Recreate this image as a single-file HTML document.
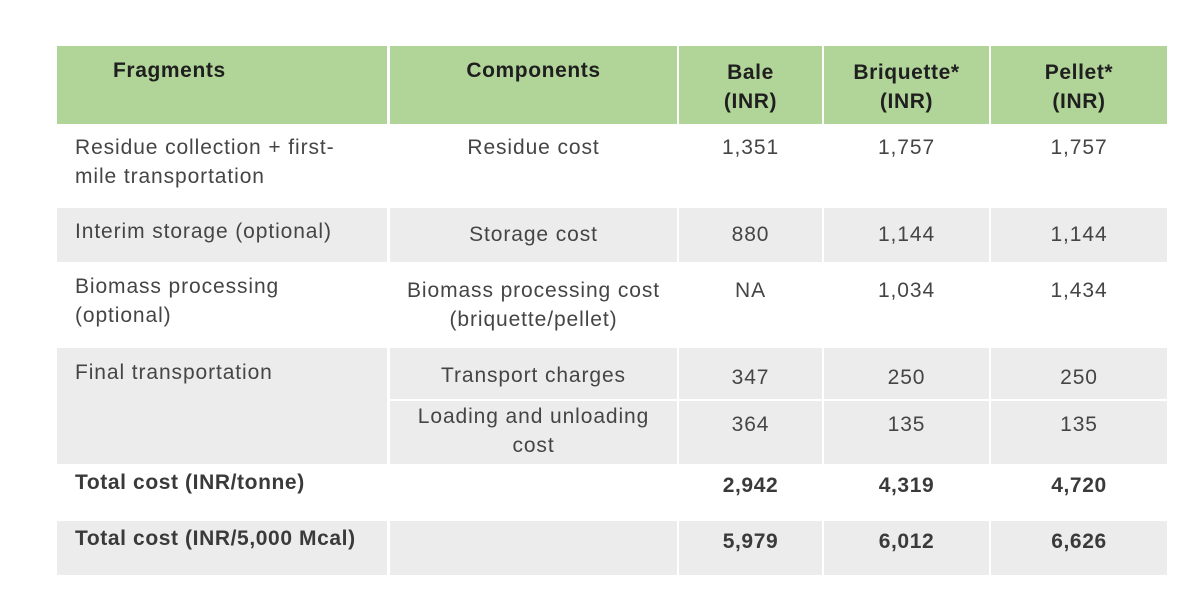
<!DOCTYPE html>
<html><head><meta charset="utf-8"><style>
body{margin:0;width:1200px;height:616px;background:#fff;position:relative;font-family:"Liberation Sans",sans-serif;overflow:hidden}
.c{position:absolute;box-sizing:border-box;padding-top:8px;font-size:21px;letter-spacing:0.9px;line-height:29px;color:#454545;text-align:center;white-space:nowrap}
.h{background:#b1d498;color:#1f1f1f;font-weight:bold;padding-top:10px;letter-spacing:0.6px}
.g{background:#ececec}
.l{text-align:left;padding-left:18px}
.b{font-weight:bold;color:#3a3a3a;letter-spacing:0.6px}
</style></head><body>
<div class="c h" style="left:57px;top:46px;width:330px;height:78px;text-align:left;padding-left:56px">Fragments</div>
<div class="c h" style="left:390px;top:46px;width:287px;height:78px">Components</div>
<div class="c h" style="left:679px;top:46px;width:143px;height:78px;padding-top:12px">Bale<br>(INR)</div>
<div class="c h" style="left:824px;top:46px;width:165px;height:78px;padding-top:12px">Briquette*<br>(INR)</div>
<div class="c h" style="left:991px;top:46px;width:176px;height:78px;padding-top:12px">Pellet*<br>(INR)</div>

<div class="c l" style="left:57px;top:125px;width:330px;height:81px">Residue collection + first-<br>mile transportation</div>
<div class="c" style="left:390px;top:125px;width:287px;height:81px">Residue cost</div>
<div class="c" style="left:679px;top:125px;width:143px;height:81px">1,351</div>
<div class="c" style="left:824px;top:125px;width:165px;height:81px">1,757</div>
<div class="c" style="left:991px;top:125px;width:176px;height:81px">1,757</div>

<div class="c l g" style="left:57px;top:208px;width:330px;height:54px;padding-top:9px">Interim storage (optional)</div>
<div class="c g" style="left:390px;top:208px;width:287px;height:54px;padding-top:12px">Storage cost</div>
<div class="c g" style="left:679px;top:208px;width:143px;height:54px;padding-top:12px">880</div>
<div class="c g" style="left:824px;top:208px;width:165px;height:54px;padding-top:12px">1,144</div>
<div class="c g" style="left:991px;top:208px;width:176px;height:54px;padding-top:12px">1,144</div>

<div class="c l" style="left:57px;top:263px;width:330px;height:83px;padding-top:9px">Biomass processing<br>(optional)</div>
<div class="c" style="left:390px;top:263px;width:287px;height:83px;padding-top:13px">Biomass processing cost<br>(briquette/pellet)</div>
<div class="c" style="left:679px;top:263px;width:143px;height:83px;padding-top:13px">NA</div>
<div class="c" style="left:824px;top:263px;width:165px;height:83px;padding-top:13px">1,034</div>
<div class="c" style="left:991px;top:263px;width:176px;height:83px;padding-top:13px">1,434</div>

<div class="c l g" style="left:57px;top:348px;width:330px;height:116px;padding-top:10px">Final transportation</div>
<div class="c g" style="left:390px;top:348px;width:287px;height:51px;padding-top:13px">Transport charges</div>
<div class="c g" style="left:679px;top:348px;width:143px;height:51px;padding-top:15px">347</div>
<div class="c g" style="left:824px;top:348px;width:165px;height:51px;padding-top:15px">250</div>
<div class="c g" style="left:991px;top:348px;width:176px;height:51px;padding-top:15px">250</div>
<div class="c g" style="left:390px;top:401px;width:287px;height:63px;padding-top:1px">Loading and unloading<br>cost</div>
<div class="c g" style="left:679px;top:401px;width:143px;height:63px;padding-top:9px">364</div>
<div class="c g" style="left:824px;top:401px;width:165px;height:63px;padding-top:9px">135</div>
<div class="c g" style="left:991px;top:401px;width:176px;height:63px;padding-top:9px">135</div>

<div class="c l b" style="left:57px;top:465px;width:330px;height:54px;padding-top:3px">Total cost (INR/tonne)</div>
<div class="c b" style="left:679px;top:465px;width:143px;height:54px;padding-top:6px">2,942</div>
<div class="c b" style="left:824px;top:465px;width:165px;height:54px;padding-top:6px">4,319</div>
<div class="c b" style="left:991px;top:465px;width:176px;height:54px;padding-top:6px">4,720</div>

<div class="c l g b" style="left:57px;top:521px;width:330px;height:54px;padding-top:3px">Total cost (INR/5,000 Mcal)</div>
<div class="c g" style="left:390px;top:521px;width:287px;height:54px"></div>
<div class="c g b" style="left:679px;top:521px;width:143px;height:54px;padding-top:6px">5,979</div>
<div class="c g b" style="left:824px;top:521px;width:165px;height:54px;padding-top:6px">6,012</div>
<div class="c g b" style="left:991px;top:521px;width:176px;height:54px;padding-top:6px">6,626</div>
</body></html>
